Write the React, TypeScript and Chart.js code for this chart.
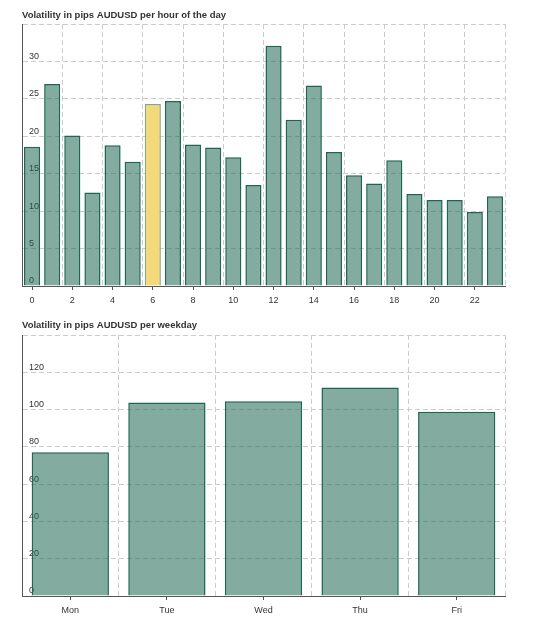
import React, { useEffect, useRef } from 'react';
import { Chart, registerables } from 'chart.js';

Chart.register(...registerables);

// ---- data ----
const hours = [0, 1, 2, 3, 4, 5, 6, 7, 8, 9, 10, 11, 12, 13, 14, 15, 16, 17, 18, 19, 20, 21, 22, 23];
const hourlyPips = [18.6, 27.0, 20.1, 12.5, 18.8, 16.6, 24.3, 24.7, 18.9, 18.5, 17.2, 13.5, 32.1, 22.2, 26.8, 17.9, 14.8, 13.7, 16.8, 12.3, 11.5, 11.5, 9.9, 12.0];
const highlightedHour = 6;
const hourTickLabels = [0, 2, 4, 6, 8, 10, 12, 14, 16, 18, 20, 22];
const hourGridLines = [1.5, 3.5, 5.5, 7.5, 9.5, 11.5, 13.5, 15.5, 17.5, 19.5, 21.5, 23.5];
const hourYTicks = [0, 5, 10, 15, 20, 25, 30];
const hourYMax = 35;

const weekdays = ['Mon', 'Tue', 'Wed', 'Thu', 'Fri'];
const weekdayPips = [77.1, 103.8, 104.5, 111.8, 98.8];
const weekdayGridLines = [0.5, 1.5, 2.5, 3.5, 4.5];
const weekdayYTicks = [0, 20, 40, 60, 80, 100, 120];
const weekdayYMax = 140;

const hourTitle = 'Volatility in pips AUDUSD per hour of the day';
const weekdayTitle = 'Volatility in pips AUDUSD per weekday';

// ---- styles ----
const BAR_FILL = 'rgba(29,102,80,0.55)';
const BAR_BORDER = '#1d6650';
const HL_FILL = '#f4d97a';
const HL_BORDER = '#8aa67c';
const GRID = '#cccccc';
const AXIS = '#555555';
const TEXT = '#333333';
const FONT = 'Liberation Sans, Arial, sans-serif';

function makeChart(
  canvas: HTMLCanvasElement,
  opts: {
    title: string;
    xs: number[];
    ys: number[];
    fills: string[];
    borders: string[];
    xMin: number;
    xMax: number;
    xLabelAt: number[];
    xGridAt: number[];
    xLabel: (v: number) => string;
    yTicks: number[];
    yMax: number;
    xAxisHeight: number;
    titleBottomPad: number;
  }
) {
  const yStep = opts.yTicks[1] - opts.yTicks[0];

  return new Chart(canvas, {
    type: 'bar',
    data: {
      datasets: [
        {
          data: opts.xs.map((x, i) => ({ x, y: opts.ys[i] })),
          backgroundColor: opts.fills,
          borderColor: opts.borders,
          borderWidth: 1.5,
          borderSkipped: 'bottom',
          barPercentage: 0.8,
          categoryPercentage: 1,
          yAxisID: 'y',
          xAxisID: 'x',
        },
      ],
    },
    options: {
      animation: false,
      responsive: false,
      maintainAspectRatio: false,
      layout: { padding: { left: 22, right: 41, top: 0, bottom: 0 } },
      plugins: {
        legend: { display: false },
        tooltip: { enabled: false },
        title: {
          display: true,
          text: opts.title,
          align: 'start',
          color: TEXT,
          font: { family: FONT, size: 9.5, weight: 'bold', lineHeight: 1.2 },
          padding: { top: 9.3, bottom: opts.titleBottomPad },
        },
      },
      scales: {
        x: {
          type: 'linear',
          position: 'bottom',
          min: opts.xMin,
          max: opts.xMax,
          offset: false,
          afterBuildTicks: (s: any) => {
            s.ticks = opts.xLabelAt.map((v) => ({ value: v }));
          },
          afterFit: (s: any) => {
            s.height = opts.xAxisHeight;
          },
          ticks: {
            autoSkip: false,
            maxRotation: 0,
            padding: 5,
            color: TEXT,
            font: { family: FONT, size: 9 },
            callback: (v: any) => opts.xLabel(Number(v)),
          },
          grid: {
            drawOnChartArea: false,
            drawTicks: true,
            tickColor: AXIS,
            tickLength: 4,
            offset: false,
          },
          border: { display: true, color: AXIS, width: 1 },
        },
        xg: {
          type: 'linear',
          position: 'bottom',
          min: opts.xMin,
          max: opts.xMax,
          offset: false,
          afterBuildTicks: (s: any) => {
            s.ticks = opts.xGridAt.map((v) => ({ value: v }));
          },
          afterFit: (s: any) => {
            s.height = 0;
          },
          ticks: { display: false },
          grid: {
            color: GRID,
            drawTicks: false,
            lineWidth: 1,
            offset: false,
          },
          border: { display: true, color: 'transparent', width: 0, dash: [5, 3] },
        },
        y: {
          type: 'linear',
          position: 'left',
          min: 0,
          max: opts.yMax,
          ticks: { stepSize: yStep, display: false },
          afterFit: (s: any) => {
            s.width = 0;
          },
          grid: {
            color: (ctx: any) => (ctx.tick && ctx.tick.value === 0 ? 'transparent' : GRID),
            drawTicks: false,
            lineWidth: 1,
          },
          border: { display: true, color: AXIS, width: 1, dash: [5, 3] },
        },
        yl: {
          type: 'linear',
          position: 'left',
          min: 0,
          max: opts.yMax,
          z: 1,
          afterFit: (s: any) => {
            s.width = 0;
          },
          ticks: {
            stepSize: yStep,
            mirror: true,
            padding: 7,
            labelOffset: -5,
            color: TEXT,
            font: { family: FONT, size: 9 },
            callback: (v: any) => (opts.yTicks.includes(Number(v)) ? String(v) : ''),
          },
          grid: { display: false, drawTicks: false },
          border: { display: false },
        },
      },
    },
  } as any);
}

export default function App() {
  const topRef = useRef<HTMLCanvasElement | null>(null);
  const botRef = useRef<HTMLCanvasElement | null>(null);

  useEffect(() => {
    const charts: Chart[] = [];
    if (topRef.current) {
      charts.push(
        makeChart(topRef.current, {
          title: hourTitle,
          xs: hours,
          ys: hourlyPips,
          fills: hours.map((h) => (h === highlightedHour ? HL_FILL : BAR_FILL)),
          borders: hours.map((h) => (h === highlightedHour ? HL_BORDER : BAR_BORDER)),
          xMin: -0.5,
          xMax: 23.5,
          xLabelAt: hourTickLabels,
          xGridAt: hourGridLines,
          xLabel: (v) => String(v),
          yTicks: hourYTicks,
          yMax: hourYMax,
          xAxisHeight: 24,
          titleBottomPad: 3.3,
        })
      );
    }
    if (botRef.current) {
      const idx = weekdays.map((_, i) => i);
      charts.push(
        makeChart(botRef.current, {
          title: weekdayTitle,
          xs: idx,
          ys: weekdayPips,
          fills: idx.map(() => BAR_FILL),
          borders: idx.map(() => BAR_BORDER),
          xMin: -0.5,
          xMax: 4.5,
          xLabelAt: idx,
          xGridAt: weekdayGridLines,
          xLabel: (v) => weekdays[Math.round(v)] ?? '',
          yTicks: weekdayYTicks,
          yMax: weekdayYMax,
          xAxisHeight: 29,
          titleBottomPad: 4.3,
        })
      );
    }
    return () => charts.forEach((c) => c.destroy());
  }, []);

  return (
    <div style={{ position: 'absolute', left: 0, top: 0, width: 546, height: 625, background: '#fff' }}>
      <canvas ref={topRef} width={546} height={310} style={{ display: 'block', width: 546, height: 310 }} />
      <canvas ref={botRef} width={546} height={315} style={{ display: 'block', width: 546, height: 315 }} />
    </div>
  );
}
